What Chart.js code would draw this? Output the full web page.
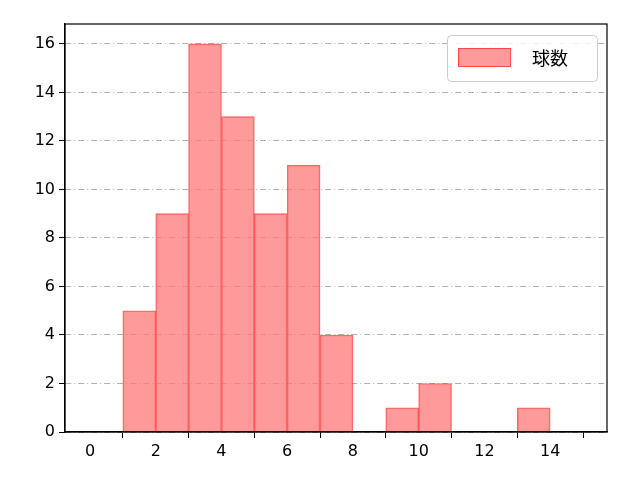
<!DOCTYPE html>
<html>
<head>
<meta charset="utf-8">
<script src="https://cdn.jsdelivr.net/npm/chart.js@4"></script>
<style>
  body { margin: 0; background: #fff; }
  #wrap { width: 640px; height: 480px; }
</style>
</head>
<body>
<div id="wrap"><canvas id="chart"></canvas></div>
<script>
// ===== data =====
const binCenters = [1.5, 2.5, 3.5, 4.5, 5.5, 6.5, 7.5, 8.5, 9.5, 10.5, 11.5, 12.5, 13.5];
const counts = [5, 9, 16, 13, 9, 11, 4, 0, 1, 2, 0, 0, 1];
const seriesLabel = "球数";
const xTicks = [0, 2, 4, 6, 8, 10, 12, 14];
const yTicks = [0, 2, 4, 6, 8, 10, 12, 14, 16];

const font = { family: "'DejaVu Sans', sans-serif", size: 16 };

// legend drawn inside the plot, top right
const innerLegend = {
    id: "innerLegend",
    afterDraw(chart) {
        const { ctx, chartArea } = chart;
        const w = 150, h = 46;
        const x = chartArea.right - 10 - w, y = chartArea.top + 11;
        ctx.save();
        ctx.fillStyle = "rgba(255,255,255,0.8)";
        ctx.strokeStyle = "#cccccc";
        ctx.lineWidth = 1;
        ctx.beginPath();
        ctx.roundRect(x + 0.5, y + 0.5, w, h, 4);
        ctx.fill(); ctx.stroke();
        ctx.fillStyle = "rgba(255,120,120,0.75)";
        ctx.strokeStyle = "rgba(255,60,60,0.9)";
        ctx.fillRect(x + 11, y + 13, 52, 18);
        ctx.strokeRect(x + 11.5, y + 13.5, 52, 18);
        ctx.fillStyle = "#000";
        ctx.font = "18px 'Noto Sans CJK JP', sans-serif";
        ctx.textBaseline = "middle";
        ctx.fillText(seriesLabel, x + 85, y + 23);
        ctx.restore();
    }
};

new Chart(document.getElementById("chart"), {
    type: "bar",
    data: {
        datasets: [{
            label: seriesLabel,
            data: binCenters.map((c, i) => ({ x: c, y: counts[i] })),
            backgroundColor: "rgba(255,120,120,0.75)",
            borderColor: "rgba(255,60,60,0.8)",
            borderWidth: 1,
            barPercentage: 1,
            categoryPercentage: 1
        }]
    },
    options: {
        responsive: true,
        maintainAspectRatio: false,
        animation: false,
        layout: { padding: { left: 0, right: 33, top: 24, bottom: 0 } },
        plugins: { legend: { display: false }, tooltip: { enabled: false } },
        scales: {
            x: {
                type: "linear",
                offset: false,
                min: -0.76, max: 15.73,
                afterBuildTicks(s) { s.ticks = xTicks.map(v => ({ value: v })); },
                afterFit(s) { s.height = 48; },
                grid: { display: true, drawOnChartArea: false, tickColor: "#000", tickLength: 6 },
                border: { color: "#000", width: 1.2 },
                ticks: { color: "#000", font, padding: 4, maxRotation: 0 }
            },
            y: {
                min: 0, max: 16.82,
                afterBuildTicks(s) { s.ticks = yTicks.map(v => ({ value: v })); },
                afterFit(s) { s.width = 65; },
                grid: {
                    color: "#b0b0b0",
                    tickBorderDash: [0],
                    tickColor: "#000",
                    tickLength: 6
                },
                border: { color: "#000", width: 1.2, dash: [6, 3, 1, 3] },
                ticks: { color: "#000", font, padding: 4 }
            }
        }
    },
    plugins: [innerLegend, {
        id: "frame",
        afterDraw(chart) {
            const { ctx, chartArea: a } = chart;
            ctx.save();
            ctx.strokeStyle = "#000";
            ctx.lineWidth = 1.2;
            ctx.strokeRect(a.left, a.top, a.right - a.left, a.bottom - a.top);
            ctx.restore();
        }
    }]
});
</script>
</body>
</html>
